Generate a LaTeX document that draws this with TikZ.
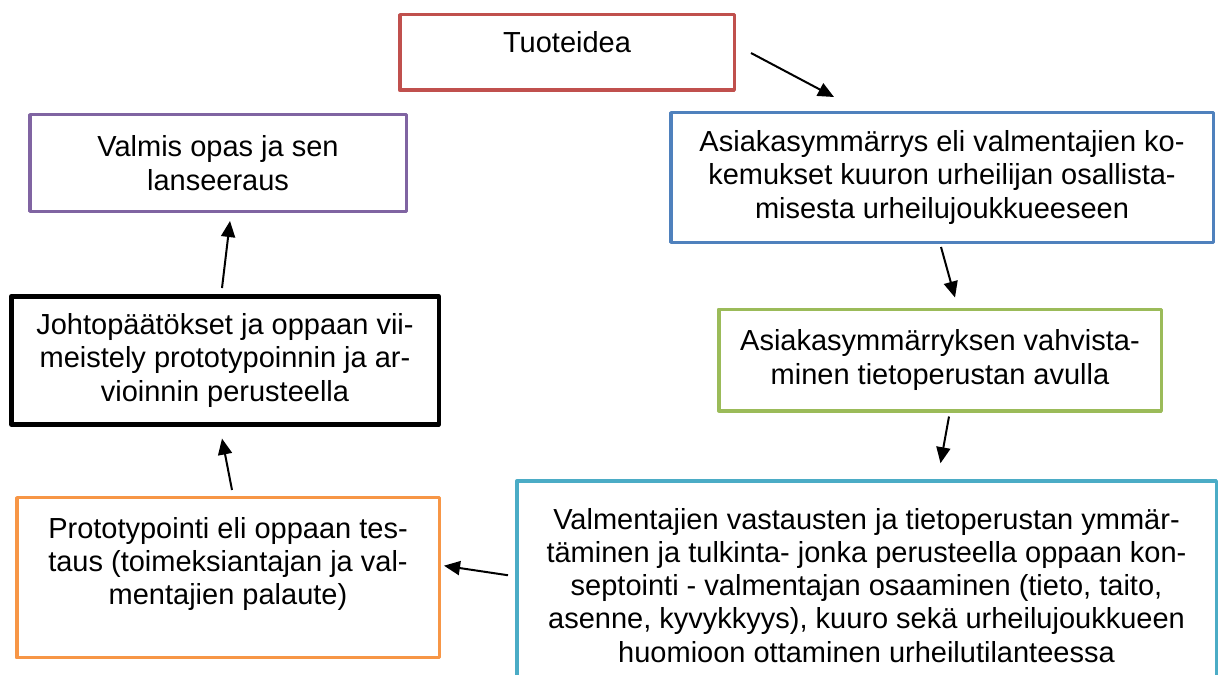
\documentclass[tikz,border=0pt]{standalone}
\usepackage{fontspec}
\setmainfont{Liberation Sans}
\usetikzlibrary{arrows.meta,calc}

\definecolor{ideared}{HTML}{C0504D}
\definecolor{custblue}{HTML}{4F81BD}
\definecolor{confgreen}{HTML}{9BBB59}
\definecolor{conccyan}{HTML}{4BACC6}
\definecolor{protoorange}{HTML}{F79646}
\definecolor{finalpurple}{HTML}{8064A2}

\begin{document}
\begin{tikzpicture}[x=1pt, y=-1pt,
  box/.style={draw, line width=3.5pt, line join=round, inner sep=0pt, align=center,
    font=\fontsize{29pt}{33.3pt}\selectfont},
  arr/.style={line width=2pt, -{Triangle[length=16pt,width=14pt]}}]
\useasboundingbox (0,0) rectangle (1222,674);
\clip (0,0) rectangle (1222,674);

% Right column: idea and customer understanding
\node[box, draw=ideared, minimum width=334.5pt, minimum height=75.5pt, text depth=21pt] (idea) at (567,52.5) {Tuoteidea};
\node[box, draw=custblue, minimum width=542.5pt, minimum height=129.5pt] (cust) at (942,177.5)
  {Asiakasymmärrys eli valmentajien ko-\\kemukset kuuron urheilijan osallista-\\misesta urheilujoukkueeseen};
\node[box, draw=confgreen, minimum width=442.5pt, minimum height=101.5pt] (conf) at (940,360)
  {Asiakasymmärryksen vahvista-\\minen tietoperustan avulla};
\node[box, draw=conccyan, minimum width=699.5pt, minimum height=208.5pt] (conc) at (866.5,585.25)
  {Valmentajien vastausten ja tietoperustan ymmär-\\täminen ja tulkinta- jonka perusteella oppaan kon-\\septointi - valmentajan osaaminen (tieto, taito,\\asenne, kyvykkyys), kuuro sekä urheilujoukkueen\\huomioon ottaminen urheilutilanteessa};

% Left column: prototype, conclusions, final guide
\node[box, draw=protoorange, minimum width=422.5pt, minimum height=160pt] (proto) at (228,577.7)
  {Prototypointi eli oppaan tes-\\taus (toimeksiantajan ja val-\\mentajien palaute)\\\mbox{}};
\node[box, draw=black, line width=4.5pt, minimum width=427.5pt, minimum height=128pt] (concl) at (225,360.3)
  {Johtopäätökset ja oppaan vii-\\meistely prototypoinnin ja ar-\\vioinnin perusteella};
\node[box, draw=finalpurple, minimum width=376.5pt, minimum height=96.5pt] (final) at (218,163)
  {Valmis opas ja sen\\lanseeraus};

% Arrows
\draw[arr] ($(idea.east)+(15,0.5)$) -- ($(cust.north)+(-108,-14)$);
\draw[arr] ($(cust.south)+(-1,3)$) -- ($(conf.north)+(15,-10)$);
\draw[arr] ($(conf.south)+(9,4)$) -- ($(conc.north)+(74,-16)$);
\draw[arr] ($(conc.west)+(-7,-10)$) -- ($(proto.east)+(3,-12)$);
\draw[arr] ($(proto.north)+(4,-6)$) -- ($(concl.south)+(-3,12)$);
\draw[arr] ($(concl.north)+(-3,-6)$) -- ($(final.south)+(12,8)$);
\end{tikzpicture}
\end{document}
